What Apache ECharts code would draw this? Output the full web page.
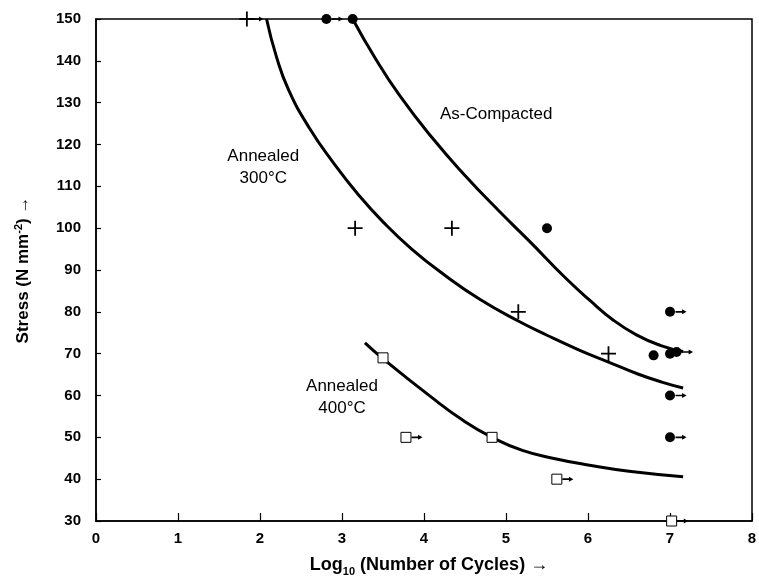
<!DOCTYPE html>
<html>
<head>
<meta charset="utf-8">
<script src="https://cdn.jsdelivr.net/npm/echarts@6/dist/echarts.min.js"></script>
<style>
  html, body { margin: 0; padding: 0; background: #fff; }
  #chart { width: 759px; height: 577px; }
</style>
</head>
<body>
<div id="chart"></div>
<script>
// Axis ticks
const xTicks = [0, 1, 2, 3, 4, 5, 6, 7, 8];
const yTicks = [30, 40, 50, 60, 70, 80, 90, 100, 110, 120, 130, 140, 150];

// Test points: [log10 cycles, stress]
const asCompactedPts = [[2.81, 150], [3.13, 150], [5.50, 100], [6.80, 69.6], [7.0, 80], [7.0, 70], [7.08, 70.4], [7.0, 60], [7.0, 50]];
const annealed300Pts = [[1.84, 150], [3.16, 100], [4.34, 100], [5.15, 80], [6.25, 70]];
const annealed400Pts = [[3.50, 69], [3.78, 50], [4.83, 50], [5.62, 40], [7.02, 30]];

// Unbroken specimens (run-outs), marked with an arrow
const asCompactedRunouts = [[2.81, 150], [7.0, 80], [7.08, 70.4], [7.0, 60], [7.0, 50]];
const annealed300Runouts = [[1.84, 150]];
const annealed400Runouts = [[3.78, 50], [5.62, 40], [7.02, 30]];

// Fitted S-N curves
const asCompactedCurve = [[3.13, 150], [3.4, 140.8], [3.7, 131.8], [4.1, 121.6], [4.5, 112.6], [4.9, 104.4],
  [5.3, 96.6], [5.72, 88.2], [6.02, 82.8], [6.31, 78.0], [6.59, 74.5], [6.88, 72.0], [7.16, 70.5]];
const annealed300Curve = [[2.08, 150], [2.2, 141], [2.35, 133], [2.6, 124], [2.9, 115.5], [3.2, 108],
  [3.5, 101.5], [3.85, 95], [4.25, 88.8], [4.68, 83], [5.15, 77.8], [5.5, 74.4], [5.9, 70.8],
  [6.25, 68], [6.6, 65.2], [6.9, 63.2], [7.16, 61.8]];
const annealed400Curve = [[3.28, 72.6], [3.50, 68.8], [4.07, 59.9], [4.48, 54.0], [4.83, 50.0], [5.2, 46.9],
  [5.6, 44.9], [6.0, 43.4], [6.5, 41.9], [7.16, 40.6]];

// Curve annotations: [x, y, text]
const curveLabels = [[4.88, 127.1, 'As-Compacted'], [2.04, 114.6, 'Annealed\n300°C'], [3.0, 59.6, 'Annealed\n400°C']];

const BOLD_FONT = '"Liberation Sans Narrow", "Arial Narrow", "Liberation Sans", Arial, sans-serif';
const TEXT_FONT = '"Liberation Sans", Arial, Helvetica, sans-serif';

const PLUS = 'path://M0,4.4H10V5.6H0Z M4.4,0H5.6V10H4.4Z';
const ARROW = 'path://M0,2H6V0L10,3L6,6V4H0Z';

function curve(data) {
  return {
    type: 'line', data, smooth: 0.5, showSymbol: false, silent: true, z: 2,
    lineStyle: { color: '#000', width: 3, opacity: 1 }
  };
}
function runouts(data) {
  return {
    type: 'scatter', data, symbol: ARROW, symbolSize: [11, 5], symbolOffset: [11, 0],
    itemStyle: { color: '#000', opacity: 1 }, silent: true, z: 3
  };
}

const chart = echarts.init(document.getElementById('chart'), null, { renderer: 'canvas' });
chart.setOption({
  animation: false,
  backgroundColor: '#fff',
  grid: {
    left: 96, right: 7, top: 19, bottom: 56, outerBoundsMode: 'none',
    show: true, borderColor: '#000', borderWidth: 1.5
  },
  xAxis: {
    type: 'value', min: xTicks[0], max: xTicks[xTicks.length - 1], interval: xTicks[1] - xTicks[0],
    name: 'Log{sub|10} (Number of Cycles) →', nameLocation: 'middle', nameGap: 33,
    nameTextStyle: {
      color: '#000', fontFamily: BOLD_FONT, fontWeight: 'bold', fontSize: 18, padding: [0, 0, 0, 10],
      rich: { sub: { fontFamily: BOLD_FONT, fontWeight: 'bold', fontSize: 11, padding: [12, 0, 0, 0] } }
    },
    axisLine: { lineStyle: { color: '#000', width: 1.5 } },
    axisTick: { inside: true, length: 8, lineStyle: { color: '#000', width: 1.2 } },
    axisLabel: { color: '#000', fontFamily: BOLD_FONT, fontWeight: 'bold', fontSize: 15, margin: 10 },
    splitLine: { show: false }
  },
  yAxis: {
    type: 'value', min: yTicks[0], max: yTicks[yTicks.length - 1], interval: yTicks[1] - yTicks[0],
    name: 'Stress (N mm{sup|-2}) →', nameLocation: 'middle', nameRotate: 90, nameGap: 62,
    nameTextStyle: {
      color: '#000', fontFamily: BOLD_FONT, fontWeight: 'bold', fontSize: 17,
      rich: { sup: { fontFamily: BOLD_FONT, fontWeight: 'bold', fontSize: 11, padding: [0, 0, 10, 0] } }
    },
    axisLine: { lineStyle: { color: '#000', width: 1.5 } },
    axisTick: { inside: true, length: 5, lineStyle: { color: '#000', width: 1.2 } },
    axisLabel: { color: '#000', fontFamily: BOLD_FONT, fontWeight: 'bold', fontSize: 15, margin: 15 },
    splitLine: { show: false }
  },
  series: [
    curve(asCompactedCurve),
    curve(annealed300Curve),
    curve(annealed400Curve),
    runouts(asCompactedRunouts),
    runouts(annealed300Runouts),
    runouts(annealed400Runouts),
    {
      type: 'scatter', data: asCompactedPts, symbol: 'circle', symbolSize: 10,
      itemStyle: { color: '#000', opacity: 1 }, silent: true, z: 4
    },
    {
      type: 'scatter', data: annealed300Pts, symbol: PLUS, symbolSize: 15,
      itemStyle: { color: '#000', opacity: 1 }, silent: true, z: 4
    },
    {
      type: 'scatter', data: annealed400Pts, symbol: 'rect', symbolSize: 10,
      itemStyle: { color: '#fff', borderColor: '#000', borderWidth: 1, opacity: 1 }, silent: true, z: 4
    },
    {
      type: 'scatter', data: curveLabels, symbolSize: 0, silent: true, z: 5,
      itemStyle: { opacity: 1 },
      label: {
        show: true, position: 'inside', formatter: p => p.data[2], opacity: 1,
        color: '#000', fontFamily: TEXT_FONT, fontSize: 17, lineHeight: 22, align: 'center'
      }
    }
  ]
});
</script>
</body>
</html>
